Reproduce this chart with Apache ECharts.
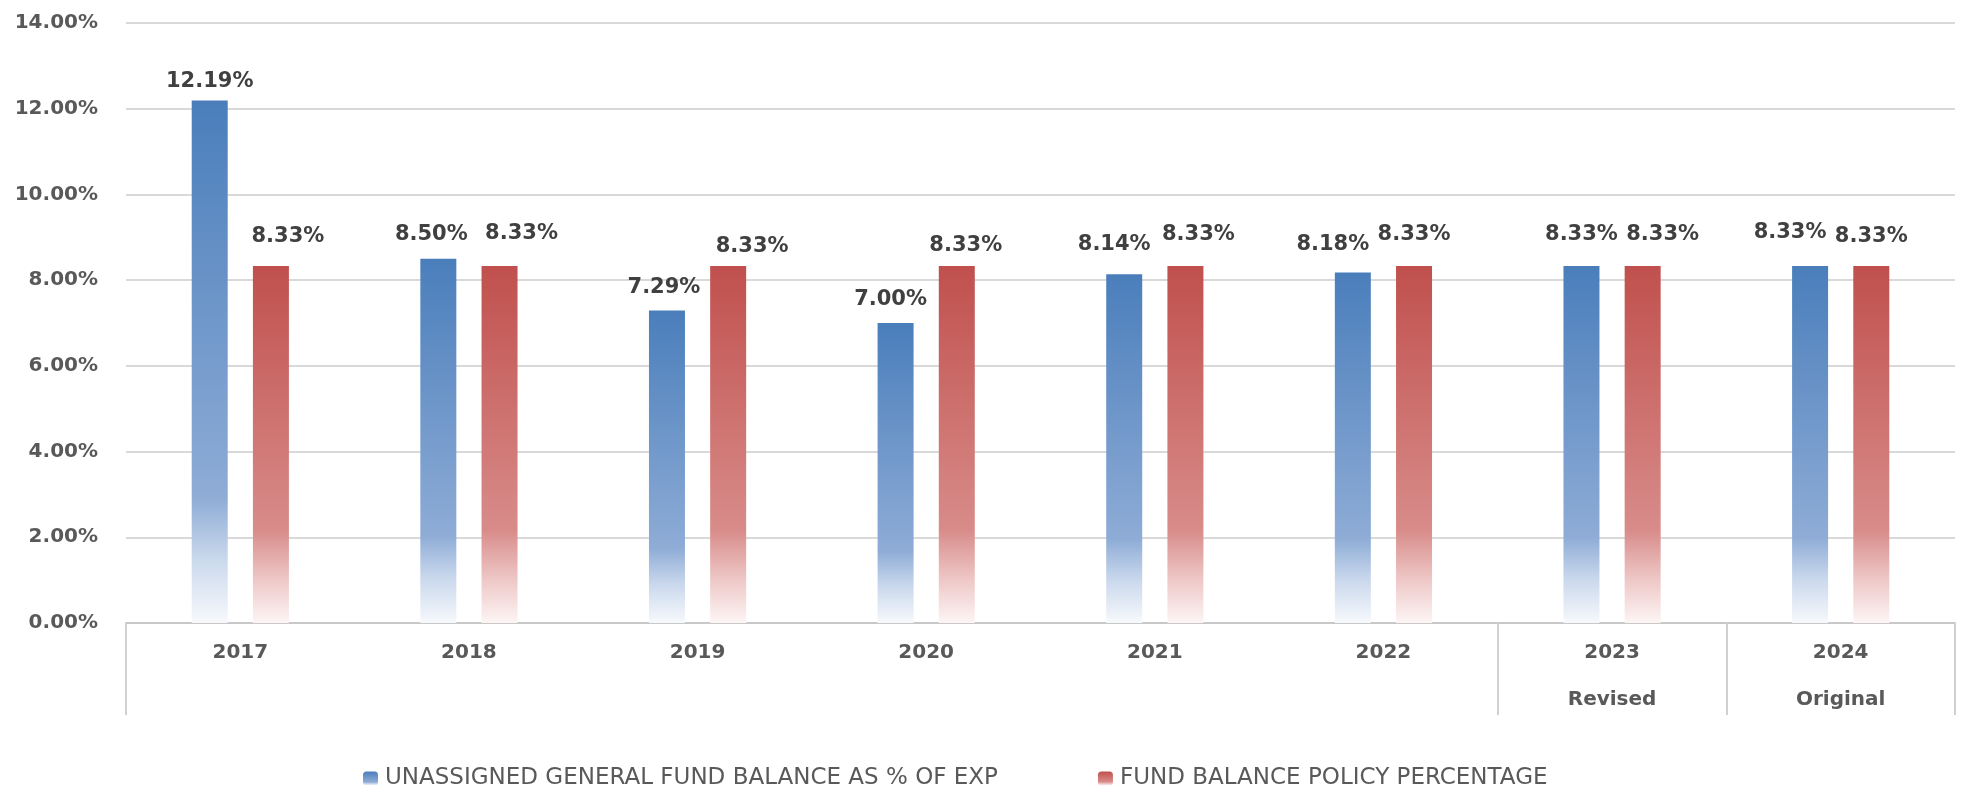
<!DOCTYPE html>
<html>
<head>
<meta charset="utf-8">
<script src="https://cdn.jsdelivr.net/npm/echarts@6/dist/echarts.min.js"></script>
<style>
  html, body { margin: 0; padding: 0; background: #fff; }
  #chart { width: 1965px; height: 789px; }
</style>
</head>
<body>
<div id="chart"></div>
<script>
const years = ['2017', '2018', '2019', '2020', '2021', '2022', '2023', '2024']
const subLabels = ['', '', '', '', '', '', 'Revised', 'Original']
const unassignedPct = [12.19, 8.50, 7.29, 7.00, 8.14, 8.18, 8.33, 8.33]
const policyPct = [8.33, 8.33, 8.33, 8.33, 8.33, 8.33, 8.33, 8.33]
const seriesNames = ['UNASSIGNED GENERAL FUND BALANCE AS % OF EXP', 'FUND BALANCE POLICY PERCENTAGE']

// the labels were nudged by hand in the original, [dx, height above bar top]
const unassignedLabelNudge = [[0, 20], [-7, 25], [-3, 24], [-5, 24], [-10, 31], [-20, 29], [0, 32], [-20, 34]]
const policyLabelNudge = [[17, 30], [22, 33], [24, 20], [9, 21], [13, 32], [0, 32], [20, 32], [0, 30]]

const fontFamily = 'DejaVu Sans'

const fade = (stops) => new echarts.graphic.LinearGradient(0, 0, 0, 1,
    stops.map(s => ({ offset: s[0], color: s[1] })))

const blueFill = fade([[0, '#4a7ebb'], [0.76, '#8eacd6'], [0.88, '#cbd9ed'], [1, '#f7f9fc']])
const redFill = fade([[0, '#c0504d'], [0.74, '#d88c8a'], [0.88, '#eec8c7'], [1, '#fdf5f5']])

const dataLabel = {
    show: true,
    position: 'top',
    distance: 0,
    fontFamily,
    fontWeight: 'bold',
    fontSize: 21,
    color: '#404040',
    formatter: (p) => p.value.toFixed(2) + '%'
}

const withNudge = (values, nudge) => values.map((v, i) => ({
    value: v,
    label: { offset: [nudge[i][0], -(nudge[i][1] - 11.5)] }
}))

const chart = echarts.init(document.getElementById('chart'))
chart.setOption({
    animation: false,
    grid: { left: 126, right: 10, top: 23, bottom: 166 },
    legend: {
        left: 358,
        top: 762,
        itemWidth: 15,
        itemHeight: 14,
        itemGap: 100,
        textStyle: { fontFamily, fontSize: 23, color: '#595959', padding: [0, 0, 0, 2] },
        data: seriesNames
    },
    xAxis: {
        type: 'category',
        data: years,
        axisLine: { lineStyle: { color: '#c8c8c8', width: 2 } },
        axisTick: {
            show: true,
            length: 92,
            interval: (i) => i === 0 || i >= 6,
            lineStyle: { color: '#d0d0d0', width: 2 }
        },
        axisLabel: {
            interval: 0,
            margin: 6,
            fontFamily,
            fontWeight: 'bold',
            fontSize: 20,
            lineHeight: 47,
            color: '#595959',
            formatter: (v, i) => subLabels[i] ? v + '\n' + subLabels[i] : v
        }
    },
    yAxis: {
        type: 'value',
        min: 0,
        max: 14,
        interval: 2,
        axisLine: { show: false },
        axisTick: { show: false },
        splitLine: { lineStyle: { color: '#d9d9d9', width: 2 } },
        axisLabel: {
            margin: 28,
            fontFamily,
            fontWeight: 'bold',
            fontSize: 20,
            color: '#595959',
            formatter: (v) => v.toFixed(2) + '%'
        }
    },
    series: [
        {
            name: seriesNames[0],
            type: 'bar',
            barWidth: 36,
            barGap: '70%',
            data: withNudge(unassignedPct, unassignedLabelNudge),
            itemStyle: { color: blueFill },
            label: dataLabel
        },
        {
            name: seriesNames[1],
            type: 'bar',
            barWidth: 36,
            data: withNudge(policyPct, policyLabelNudge),
            itemStyle: { color: redFill },
            label: dataLabel
        }
    ]
})
</script>
</body>
</html>
